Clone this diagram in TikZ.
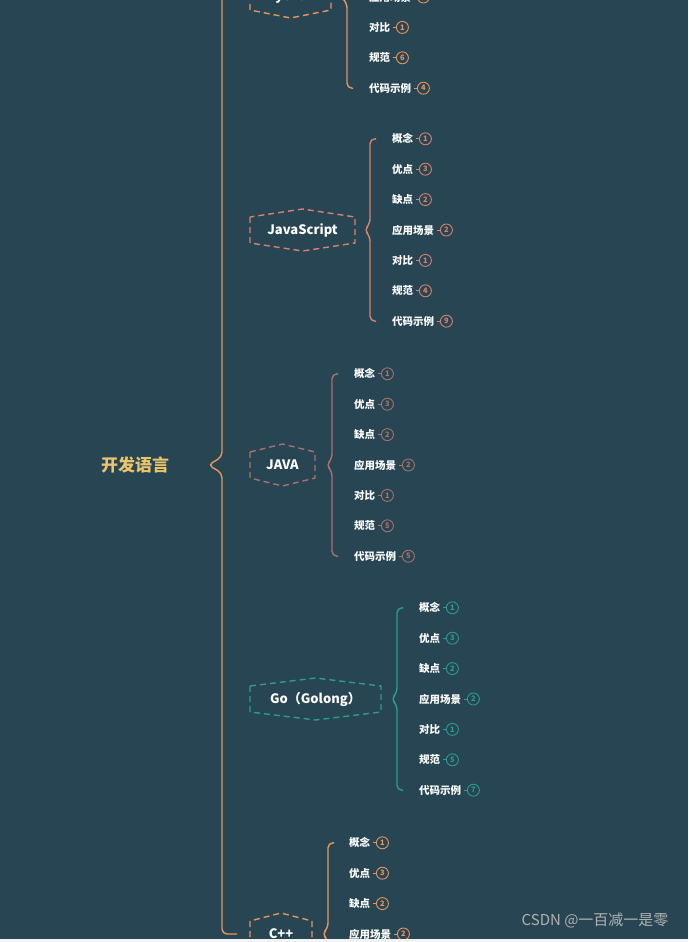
\documentclass[tikz,border=0pt]{standalone}
\usepackage{fontspec}
\setmainfont{Noto Sans CJK SC}
\usetikzlibrary{calc}
\definecolor{bg}{HTML}{274552}
\definecolor{cpy}{HTML}{E8955A}
\definecolor{cjs}{HTML}{D9826B}
\definecolor{cja}{HTML}{A8736A}
\definecolor{cgo}{HTML}{2A9D8F}
\definecolor{ctitle}{HTML}{E9C46A}
\tikzset{
  leaf/.style={anchor=west,inner sep=0pt,text=white,font=\bfseries\fontsize{10.5}{12}\selectfont},
  badge/.style={circle,draw=#1,text=#1,inner sep=0pt,minimum size=12pt,line width=0.9pt,font=\bfseries\fontsize{7.5}{8}\selectfont},
  hexline/.style={draw=#1,dashed,line width=1.4pt,dash pattern=on 6pt off 4pt},
  bracel/.style={draw=#1,line width=1.4pt,rounded corners=5pt},
  lang/.style={text=white,font=\bfseries\fontsize{13}{15}\selectfont,inner sep=0pt}
}
\newcommand{\mybranch}[9]{%
  \draw[hexline=#6] (#1,#3-13) -- (#1,#3+13) -- ({(#1+#2)/2},#3+21) -- (#2,#3+13) -- (#2,#3-13) -- ({(#1+#2)/2},#3-21) -- cycle;
  \node[lang] (#4) at ({(#1+#2)/2},#3) {#5};
  \coordinate (#4b1) at (#7+6,#3-91.2);
  \coordinate (#4b2) at (#7+6,#3+91.2);
  \draw[bracel=#6] (#4b1) -- (#7,#3-91.2) -- (#7,#3-6) -- (#7-6,#3) -- (#7,#3+6) -- (#7,#3+91.2) -- (#4b2);
  \foreach \t/\n [count=\i from 0] in {#9} {
    \node[leaf] (#4t\i) at (#8,{#3-91.2+30.4*\i}) {\t};
    \node[badge=#6] (#4n\i) at ($(#4t\i.east)+(12,0)$) {\n};
    \draw[#6,line width=0.9pt] ($(#4t\i.east)+(3,0)$) -- (#4n\i.west);
  }
}
\begin{document}
\begin{tikzpicture}[x=1pt,y=-1pt]
\fill[bg] (0,0) rectangle (688,942);
\useasboundingbox (0,0) rectangle (688,942);
\clip (0,0) rectangle (688,942);
\draw[bracel=cpy] (228,-30) -- (222,-30) -- (222,457) -- (208,465) -- (222,473) -- (222,934) -- (237,934);
\node[text=ctitle,font=\bfseries\fontsize{17}{20}\selectfont] (root) at (135,465) {开发语言};
\mybranch{250}{331}{-3}{py}{Python}{cpy}{347}{369}{概念/1,优点/3,缺点/2,应用场景/2,对比/1,规范/6,代码示例/4}
\mybranch{250}{355}{230}{js}{JavaScript}{cjs}{370}{392}{概念/1,优点/3,缺点/2,应用场景/2,对比/1,规范/4,代码示例/9}
\mybranch{250}{315}{465}{ja}{JAVA}{cja}{332}{354}{概念/1,优点/3,缺点/2,应用场景/2,对比/1,规范/5,代码示例/5}
\mybranch{250}{381}{699}{go}{Go（Golong）}{cgo}{397}{419}{概念/1,优点/3,缺点/2,应用场景/2,对比/1,规范/5,代码示例/7}
\mybranch{250}{312}{934}{cp}{C++}{cpy}{328}{349}{概念/1,优点/3,缺点/2,应用场景/2,对比/1,规范/5,代码示例/4}
\node[text=gray!60,font=\fontsize{15}{17}\selectfont,anchor=east] (wm) at (672,921) {CSDN @一百减一是零};
\fill[gray!10] (0,939) rectangle (688,942);
\end{tikzpicture}
\end{document}
